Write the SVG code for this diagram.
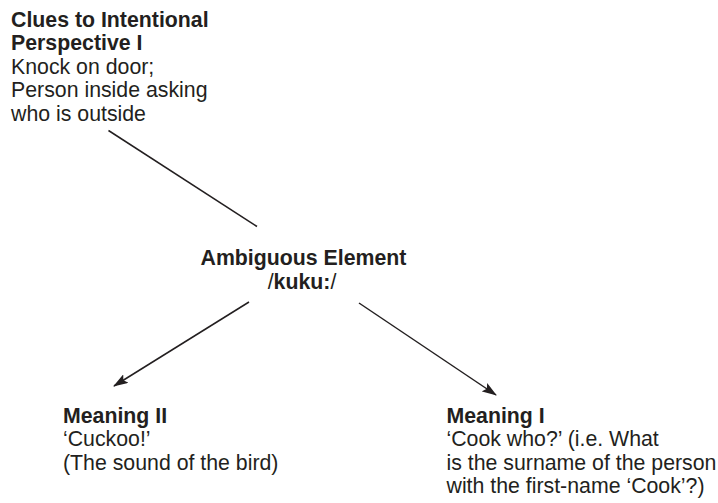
<svg xmlns="http://www.w3.org/2000/svg" width="718" height="503" viewBox="0 0 718 503">
  <style>
    text { font-family: "Liberation Sans", Arial, Helvetica, sans-serif; font-size: 21.3px; fill: #231f20; }
    .b { font-weight: bold; }
    .conn { stroke: #231f20; stroke-width: 1.5; fill: none; }
  </style>
  <defs>
    <marker id="arrow" viewBox="0 0 15 10" refX="14" refY="5" markerWidth="15" markerHeight="10" markerUnits="userSpaceOnUse" orient="auto">
      <path d="M0,0 L15,5 L0,10 L3,5 Z" fill="#231f20"/>
    </marker>
  </defs>
  <rect width="718" height="503" fill="#ffffff"/>

  <g id="clues">
    <text x="11" y="26.5" class="b">Clues to Intentional</text>
    <text x="11" y="50" class="b">Perspective I</text>
    <text x="11" y="73.5">Knock on door;</text>
    <text x="11" y="97">Person inside asking</text>
    <text x="11" y="120.5">who is outside</text>
  </g>

  <g id="ambiguous">
    <text x="303.5" y="264.5" class="b" text-anchor="middle">Ambiguous Element</text>
    <text x="302" y="288.5" text-anchor="middle">/<tspan class="b">kuku:</tspan>/</text>
  </g>

  <g id="meaning2">
    <text x="63" y="422.5" class="b">Meaning II</text>
    <text x="63" y="446">‘Cuckoo!’</text>
    <text x="63" y="469.5">(The sound of the bird)</text>
  </g>

  <g id="meaning1">
    <text x="446.5" y="422.5" class="b">Meaning I</text>
    <text x="446.5" y="446">‘Cook who?’ (i.e. What</text>
    <text x="446.5" y="469.5">is the surname of the person</text>
    <text x="446.5" y="493">with the first-name ‘Cook’?)</text>
  </g>

  <g id="connectors">
    <line class="conn" x1="108.5" y1="130.5" x2="257" y2="226.5"/>
    <line class="conn" x1="249" y1="302" x2="114" y2="386" marker-end="url(#arrow)"/>
    <line class="conn" x1="359" y1="303" x2="496" y2="395" marker-end="url(#arrow)"/>
  </g>
</svg>
